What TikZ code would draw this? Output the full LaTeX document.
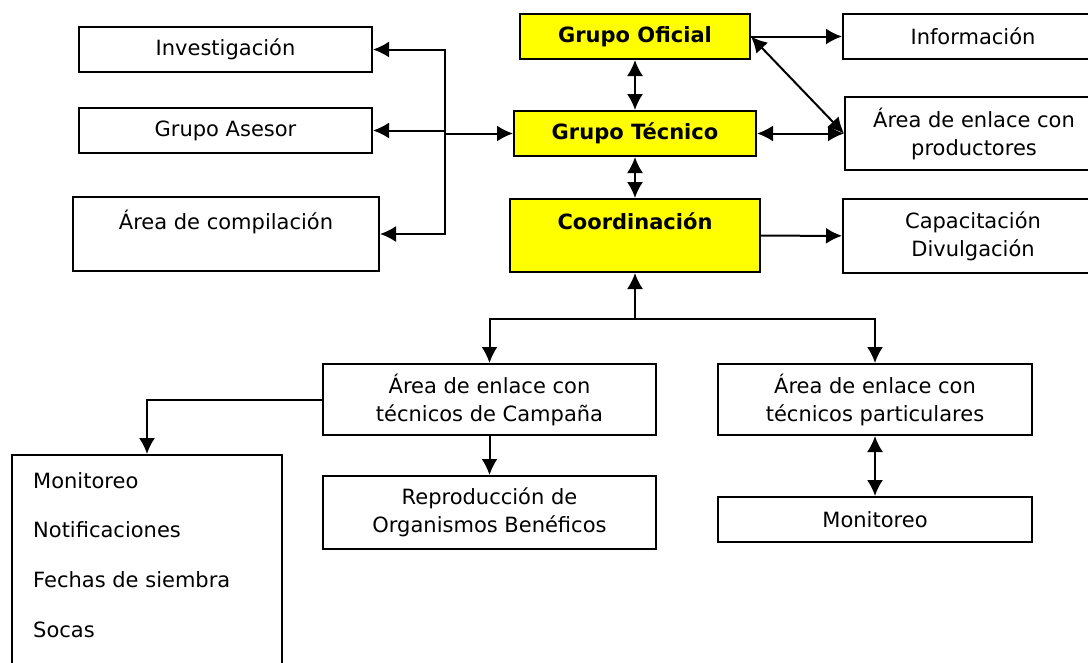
\documentclass[tikz,border=0pt]{standalone}
\usepackage{fontspec}
\setmainfont{DejaVu Sans}
\usetikzlibrary{arrows.meta}
\definecolor{boxyellow}{RGB}{255,255,0}

\begin{document}
\begin{tikzpicture}[x=1pt, y=-1pt, box/.style={draw, rectangle, line width=2pt, align=center, inner sep=0pt, font=\fontsize{21}{28}\selectfont}, boss/.style={box, fill=boxyellow, font=\fontsize{21}{28}\selectfont\bfseries}, n/.style={-{Latex[length=16pt, width=16pt]}, line width=2pt}, b/.style={{Latex[length=16pt, width=16pt]}-{Latex[length=16pt, width=16pt]}, line width=2pt}]
                \useasboundingbox (0,0) rectangle (1088,662);
                \clip (0,0) rectangle (1088,662);
                % nodes
                \node[boss, minimum width=230, minimum height=45] (ofi) at (635,36.5) {Grupo Oficial};
                \node[boss, minimum width=242, minimum height=45] (tec) at (635,133.5) {Grupo Técnico};
                \node[boss, minimum width=250, minimum height=73] (coord) at (635,235.5) {Coordinación\\ };
                \node[box, minimum width=293, minimum height=45] (inv) at (225.5,49.5) {Investigación};
                \node[box, minimum width=293, minimum height=45] (ase) at (225.5,130.5) {Grupo Asesor};
                \node[box, minimum width=306, minimum height=74] (comp) at (226,234) {Área de compilación\\ };
                \node[box, minimum width=260, minimum height=45] (info) at (973,36.5) {Información};
                \node[box, minimum width=258, minimum height=73] (prod) at (974,133.5) {Área de enlace con\\productores};
                \node[box, minimum width=260, minimum height=74] (capa) at (973,236) {Capacitación\\Divulgación};
                \node[box, minimum width=333, minimum height=71] (camp) at (489.5,399.5) {Área de enlace con\\técnicos de Campaña};
                \node[box, minimum width=333, minimum height=73] (repro) at (489.5,512.5) {Reproducción de\\Organismos Benéficos};
                \node[box, minimum width=314, minimum height=71] (part) at (875,399.5) {Área de enlace con\\técnicos particulares};
                \node[box, minimum width=314, minimum height=45] (moni) at (875,519.5) {Monitoreo};
                \node[box, minimum width=270, minimum height=245] (lista) at (147,577.5) {};
                \node[anchor=north west, align=left, inner sep=0pt, font=\fontsize{21}{49.7}\selectfont] (listatxt) at (33,472) {Monitoreo\\Notificaciones\\Fechas de siembra\\Socas};
                \coordinate (jn) at (445,133.5);
                \coordinate (split) at (635,319);
                % edges
                \draw [n] (jn) |- (inv.east);
                \draw [n] (jn) |- (ase.east);
                \draw [n] (jn) |- (comp.east);
                \draw [n] (jn) -- (tec.west);
                \draw [b] (ofi) -- (tec);
                \draw [b] (tec) -- (coord);
                \draw [n] (ofi) -- (info);
                \draw [b] (ofi.east) -- (prod.west);
                \draw [b] (tec) -- (prod);
                \draw [n] (coord) -- (capa);
                \draw [n] (split) -- (coord);
                \draw [n] (split) -| (camp.north);
                \draw [n] (split) -| (part.north);
                \draw [n] (camp.west) -| (lista.north);
                \draw [n] (camp) -- (repro);
                \draw [b] (part) -- (moni);
            \end{tikzpicture}
\end{document}
